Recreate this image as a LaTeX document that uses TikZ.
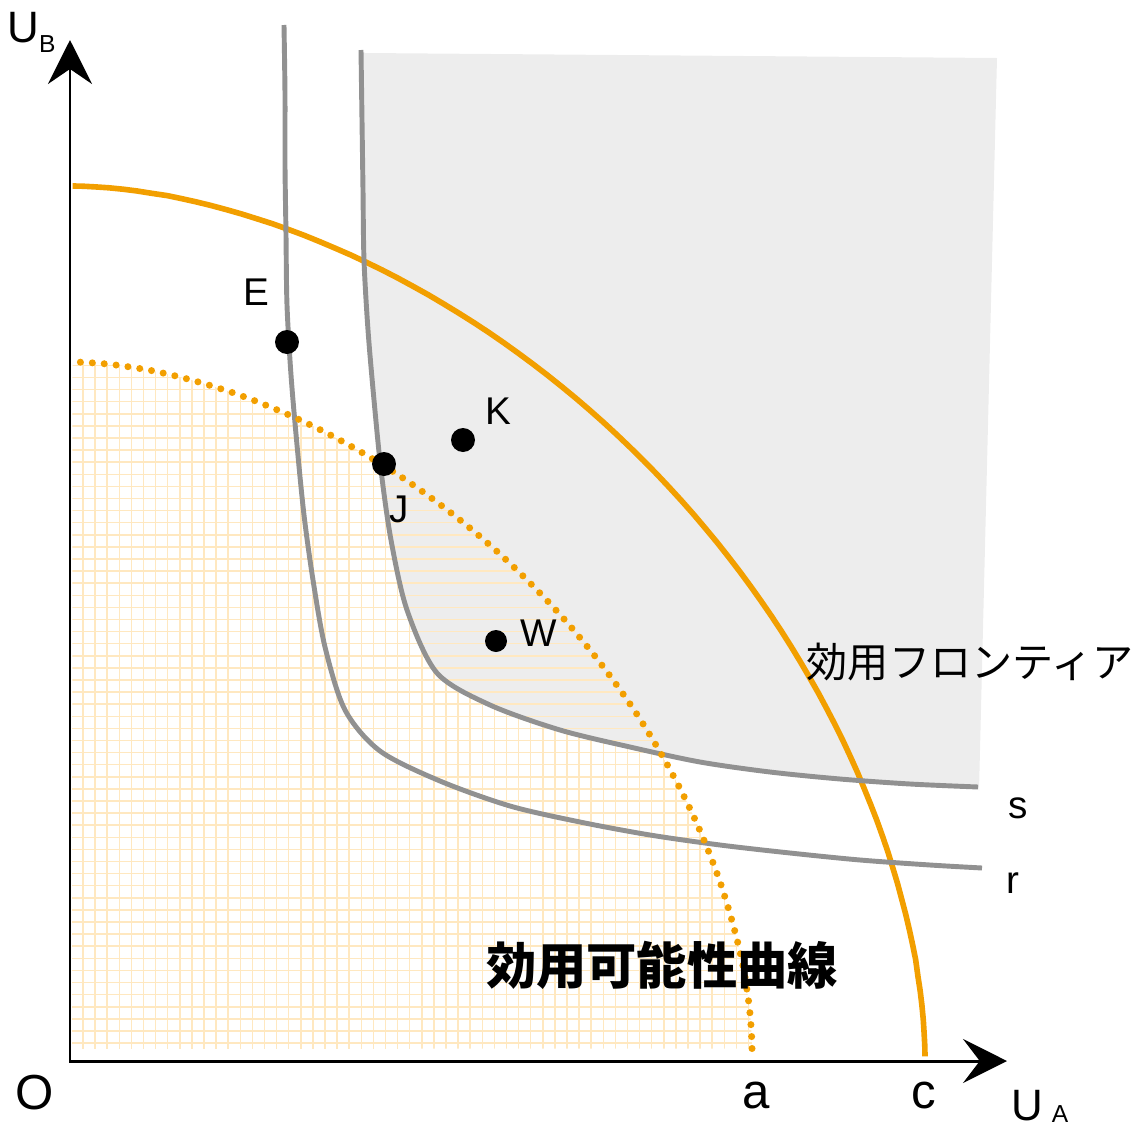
\documentclass[tikz,border=0pt]{standalone}
\usepackage{fontspec}
\setmainfont{Liberation Sans}
\newfontfamily\jp{Noto Sans CJK JP}
\usetikzlibrary{arrows.meta}

\definecolor{frontorange}{RGB}{242,159,0}
\definecolor{curvegray}{RGB}{145,145,145}
\definecolor{regiongray}{RGB}{237,237,237}
\definecolor{gridorange}{RGB}{255,232,192}

\tikzset{
  axis/.style={line width=1.7pt,
    {Stealth[length=25pt,width=25pt,inset=8.5pt]}-{Stealth[length=25pt,width=25pt,inset=9.5pt]}},
  indiff/.style={curvegray, line width=2.8pt},
  frontier/.style={frontorange, line width=3.2pt},
  possible/.style={frontorange, line width=4pt, line cap=round, dash pattern=on 0pt off 6.8pt},
  gridline/.style={gridorange, line width=0.9pt},
  pt/.style={circle, fill=black, inner sep=0pt, minimum size=0.48cm},
  lbl/.style={font=\fontsize{22}{22}\selectfont, inner sep=0pt},
  axlbl/.style={font=\fontsize{28}{28}\selectfont, inner sep=0pt},
}

% curves, in pixel units
\newcommand\possiblecurve{plot[domain=0.1:89.9, samples=80, variable=\t] ({72+680*cos(\t)^1.13},{1049-687*sin(\t)^1.13})}
\newcommand\frontcurve{plot[domain=0.1:89.9, samples=80, variable=\t] ({72+853*cos(\t)^1.124},{1057-871*sin(\t)^1.124})}
\newcommand\scurve{plot[smooth] coordinates {(361,50) (362,120) (363,190) (364,260) (368,330) (374,400) (381,470) (391,540) (407,610) (437,673) (490,705) (560,730) (630,747) (700,762) (770,772) (840,779) (910,784) (978,787)}}
\newcommand\rcurve{plot[smooth] coordinates {(284,25) (285,95) (285,165) (286,235) (287,305) (291,375) (297,445) (304,515) (313,580) (325,647) (345,710) (380,751) (440,781) (510,806) (580,822) (650,835) (720,845) (790,853) (860,860) (930,865) (982,868)}}

\begin{document}
\begin{tikzpicture}[x=0.02cm, y=-0.02cm]
\useasboundingbox (0,0) rectangle (1144,1133);

% utility possibility region (grid)
\begin{scope}
\clip \possiblecurve -- (72,1049) -- cycle;
\foreach \i in {0,...,56} \draw[gridline] ({83+12.1*\i},1049) -- ({83+12.1*\i},350);
\foreach \i in {0,...,57} \draw[gridline] (72,{1043-12.1*\i}) -- (760,{1043-12.1*\i});
\end{scope}

% region above s
\fill[regiongray] \scurve -- (979,791) -- (997,58) -- (365,53) -- cycle;

\begin{scope}
\clip \possiblecurve -- (72,1049) -- cycle;
\clip \scurve -- (979,791) -- (997,58) -- (365,53) -- cycle;
\foreach \i in {0,...,57} \draw[gridline] (72,{1043-12.1*\i}) -- (760,{1043-12.1*\i});
\end{scope}

\draw[frontier] \frontcurve;
\draw[indiff] \rcurve;
\draw[indiff] \scurve;
\draw[possible] \possiblecurve;

% axes
\coordinate (origin) at (70,1061);
\coordinate (ytip) at (70,40);
\coordinate (xtip) at (1007,1061);
\draw[axis] (ytip) -- (origin) -- (xtip);

\node[pt] (E) at (287,342) {};
\node[pt] (J) at (384,464) {};
\node[pt] (K) at (463,440) {};
\node[pt, minimum size=0.44cm] (W) at (496,641) {};

\node[lbl] (Elbl) at (256,292) {E};
\node[lbl] (Klbl) at (498,411) {K};
\node[lbl] (Jlbl) at (399,509) {J};
\node[lbl] (Wlbl) at (539,633) {W};
\node[lbl] (slbl) at (1018,808) {s};
\node[lbl] (rlbl) at (1013,883) {r};

\node[axlbl] (Olbl) at (35,1093) {O};
\node[axlbl] (albl) at (756,1095) {a};
\node[axlbl] (clbl) at (924,1095) {c};
\node[anchor=base west, inner sep=0pt] (UB) at (7,42)
  {\fontsize{25}{25}\selectfont U\raisebox{-5.7pt}{\fontsize{14}{14}\selectfont B}};
\node[anchor=base west, inner sep=0pt] (UA) at (1011,1120)
  {\fontsize{25}{25}\selectfont U\hspace{5pt}\raisebox{-1.7pt}{\fontsize{14}{14}\selectfont A}};

\node[font=\jp\fontsize{23.4}{24}\selectfont, inner sep=0pt] (frontlbl) at (970,662) {効用フロンティア};
\node[font=\jp\bfseries\fontsize{28.6}{29}\selectfont, inner sep=0pt] (possiblelbl) at (662,965) {効用可能性曲線};

\end{tikzpicture}
\end{document}
